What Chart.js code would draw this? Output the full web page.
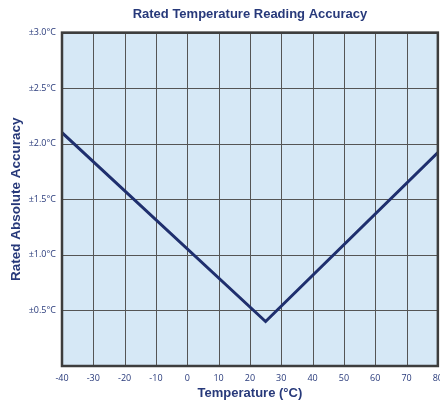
<!DOCTYPE html>
<html>
<head>
<meta charset="utf-8">
<script src="https://cdn.jsdelivr.net/npm/chart.js@4.4.0/dist/chart.umd.min.js"></script>
<style>
  html, body { margin: 0; padding: 0; background: #fff; overflow: hidden; }
  #wrap { width: 450px; height: 407px; }
</style>
</head>
<body>
<div id="wrap"><canvas id="accChart" width="450" height="407"></canvas></div>
<script>
// Rated accuracy vs temperature
const temps = [-40, 25, 80];
const accuracy = [2.1, 0.4, 1.92];
const yTicks = [0.5, 1.0, 1.5, 2.0, 2.5, 3.0];

const navy = '#27397a';

// fill plot background and draw frame
const frame = {
    id: 'frame',
    beforeDatasetsDraw(chart) {
        const a = chart.chartArea;
        const ctx = chart.ctx;
        ctx.save();
        ctx.fillStyle = '#d6e8f6';
        ctx.fillRect(a.left, a.top, a.right - a.left, a.bottom - a.top);
        ctx.restore();
    },
    afterDraw(chart) {
        const a = chart.chartArea;
        const ctx = chart.ctx;
        ctx.save();
        ctx.strokeStyle = '#3d3d3d';
        ctx.lineWidth = 2.5;
        ctx.strokeRect(a.left, a.top, a.right - a.left, a.bottom - a.top);
        ctx.restore();
    }
};

// grid drawn after background
const grid = {
    id: 'gridLines',
    beforeDatasetsDraw(chart) {
        const a = chart.chartArea;
        const ctx = chart.ctx;
        const xs = chart.scales.x, ys = chart.scales.y;
        ctx.save();
        ctx.strokeStyle = '#555';
        ctx.lineWidth = 1;
        ctx.beginPath();
        for (let t = -30; t < 80; t += 10) {
            const px = Math.round(xs.getPixelForValue(t)) + 0.5;
            ctx.moveTo(px, a.top); ctx.lineTo(px, a.bottom);
        }
        yTicks.forEach(v => {
            const py = Math.round(ys.getPixelForValue(v)) + 0.5;
            ctx.moveTo(a.left, py); ctx.lineTo(a.right, py);
        });
        ctx.stroke();
        ctx.restore();
    }
};

new Chart(document.getElementById('accChart'), {
    type: 'scatter',
    data: {
        datasets: [{
            data: temps.map((t, i) => ({ x: t, y: accuracy[i] })),
            showLine: true,
            borderColor: '#1f2f6e',
            borderWidth: 3,
            pointRadius: 0,
            tension: 0
        }]
    },
    plugins: [frame, grid],
    options: {
        responsive: false,
        animation: false,
        layout: { padding: { top: 0, right: 0, left: 0, bottom: 4 } },
        plugins: {
            legend: { display: false },
            tooltip: { enabled: false },
            title: {
                display: true,
                fullSize: false,
                text: 'Rated Temperature Reading Accuracy',
                color: navy,
                font: { family: 'Liberation Sans', size: 13, weight: 'bold' },
                padding: { top: 7, bottom: 10 }
            }
        },
        scales: {
            x: {
                type: 'linear',
                min: -40,
                max: 80,
                afterFit(s) { s.height = 37; },
                ticks: {
                    stepSize: 10,
                    color: navy,
                    font: { family: 'Open Sans', size: 9 },
                    padding: 7,
                    maxRotation: 0
                },
                grid: { display: false, drawTicks: false },
                border: { display: false },
                title: {
                    display: true,
                    text: 'Temperature (°C)',
                    color: navy,
                    font: { family: 'Liberation Sans', size: 13, weight: 'bold' },
                    padding: { top: 2, bottom: 2 }
                }
            },
            y: {
                min: 0,
                max: 3,
                afterFit(s) { s.width = 62; },
                ticks: {
                    stepSize: 0.5,
                    color: navy,
                    font: { family: 'Open Sans', size: 9 },
                    padding: 6,
                    callback: v => v === 0 ? '' : '±' + v.toFixed(1) + '°C'
                },
                grid: { display: false, drawTicks: false },
                border: { display: false },
                title: {
                    display: true,
                    text: 'Rated Absolute Accuracy',
                    color: navy,
                    font: { family: 'Liberation Sans', size: 13.5, weight: 'bold' },
                    padding: { top: 8, bottom: 4 }
                }
            }
        }
    }
});
</script>
</body>
</html>
